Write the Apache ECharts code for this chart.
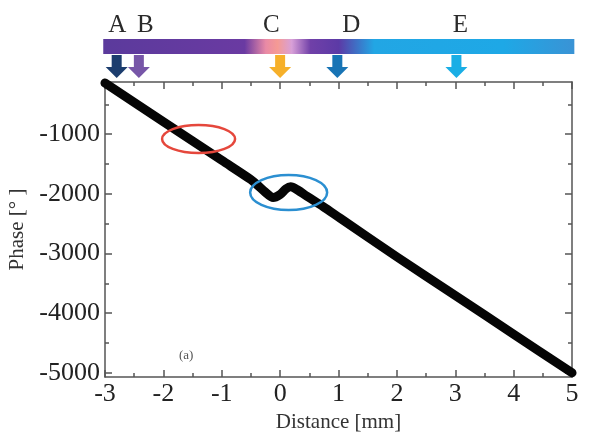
<!DOCTYPE html>
<html><head><meta charset="utf-8">
<script src="https://cdn.jsdelivr.net/npm/echarts@6/dist/echarts.min.js"></script>
<style>html,body{margin:0;padding:0;background:#fff}#c{width:590px;height:439px}</style>
</head><body><div id="c"></div>
<script>
// ---- data ----
const distance = [-3, -2, -1, -0.5, -0.38, -0.25, -0.12, 0.0, 0.1, 0.18, 0.3, 0.46, 0.74, 1.03, 2, 3, 4, 5];
const phase    = [-142, -790, -1438, -1762, -1860, -1975, -2062, -2010, -1918, -1882, -1935, -2040, -2215, -2410, -3056, -3704, -4352, -5000];
const xTicks = [-3, -2, -1, 0, 1, 2, 3, 4, 5];
const yTicks = [-5000, -4000, -3000, -2000, -1000];
const yMinorTicks = [-4500, -3500, -2500, -1500, -500];
const markerLabels = ['A', 'B', 'C', 'D', 'E'];
const markerPos = [-2.8, -2.42, 0, 0.98, 3.02];
const markerLabelPos = [-2.79, -2.31, -0.15, 1.22, 3.09];
const markerColors = ['#1c3d6e', '#7756a8', '#f6b02a', '#1874b5', '#1aaee5'];
const barRange = [-3.03, 5.04];
const ellipseCenters = [[-1.397, -1080], [0.146, -1977]];
const ellipseColors = ['#e5473c', '#2b8fd1'];

const X_MIN = -3, X_MAX = 5, Y_MIN = -5070, Y_MAX = -125;
const FONT = '"Liberation Serif", "Times New Roman", serif';
const AX = '#555';

const chart = echarts.init(document.getElementById('c'), null, {renderer: 'canvas'});

function yAx(pos, ticks, len, showLine, extra) {
  return Object.assign({
    type: 'value', min: Y_MIN, max: Y_MAX, position: pos,
    axisLine: {show: showLine, onZero: false, lineStyle: {color: AX, width: 1.5}},
    axisTick: {show: true, inside: true, length: len, customValues: ticks, lineStyle: {color: AX, width: 1.5}},
    axisLabel: {show: false},
    splitLine: {show: false}
  }, extra || {});
}
function xAx(pos, showLabel, extra) {
  return Object.assign({
    type: 'value', min: X_MIN, max: X_MAX, interval: 1, position: pos,
    axisLine: {show: true, onZero: false, lineStyle: {color: AX, width: 1.5}},
    axisTick: {show: true, inside: true, length: 7, lineStyle: {color: AX, width: 1.5}},
    minorTick: {show: true, splitNumber: 2, length: 4, lineStyle: {color: AX, width: 1.5}},
    axisLabel: {show: showLabel, customValues: xTicks, formatter: v => String(v),
      fontFamily: FONT, fontSize: 26, color: '#222', margin: 4},
    splitLine: {show: false}, minorSplitLine: {show: false}
  }, extra || {});
}

const option = {
  animation: false,
  backgroundColor: '#fff',
  grid: {left: 105, right: 18, top: 82, bottom: 62, containLabel: false, outerBoundsMode: 'none'},
  xAxis: [
    xAx('bottom', true, {name: 'Distance [mm]', nameLocation: 'middle', nameGap: 33,
      nameTextStyle: {fontFamily: FONT, fontSize: 21, color: '#333'}}),
    xAx('top', false)
  ],
  yAxis: [
    yAx('left', yTicks, 7, true, {
      axisLabel: {show: true, customValues: yTicks, formatter: v => String(v),
        fontFamily: FONT, fontSize: 26, color: '#222', margin: 5},
      name: 'Phase [° ]', nameLocation: 'middle', nameGap: 77, nameRotate: 90,
      nameTextStyle: {fontFamily: FONT, fontSize: 21, color: '#333'}
    }),
    yAx('left', yMinorTicks, 4, false),
    yAx('right', yTicks, 7, true),
    yAx('right', yMinorTicks, 4, false)
  ],
  graphic: [
    {type: 'text', left: 179, top: 349, style: {text: '(a)', font: '13px ' + FONT, fill: '#555'}}
  ],
  series: [
    {
      type: 'line', xAxisIndex: 0, yAxisIndex: 0,
      data: distance.map((d, i) => [d, phase[i]]),
      showSymbol: false, smooth: 0.3, clip: false,
      lineStyle: {color: '#050505', width: 9, cap: 'round', join: 'round'},
      z: 3
    },
    {
      type: 'custom', xAxisIndex: 0, yAxisIndex: 0, clip: false, z: 2,
      data: [[barRange[0], Y_MAX, barRange[1]]],
      encode: {x: [0, 2], y: 1},
      renderItem: function (params, api) {
        const p0 = api.coord([api.value(0), api.value(1)]);
        const p1 = api.coord([api.value(2), api.value(1)]);
        return {
          type: 'rect',
          shape: {x: p0[0], y: p0[1] - 43, width: p1[0] - p0[0], height: 15},
          style: {fill: new echarts.graphic.LinearGradient(0, 0, 1, 0, [
            {offset: 0, color: '#5b3a9c'},
            {offset: 0.30, color: '#6a3aa2'},
            {offset: 0.345, color: '#e98aa6'},
            {offset: 0.37, color: '#f59a94'},
            {offset: 0.40, color: '#d8a0d8'},
            {offset: 0.44, color: '#7040a8'},
            {offset: 0.50, color: '#5c3aa6'},
            {offset: 0.575, color: '#22a6e4'},
            {offset: 0.85, color: '#1ea8e6'},
            {offset: 1, color: '#3a93d5'}
          ])}
        };
      }
    },
    {
      type: 'custom', xAxisIndex: 0, yAxisIndex: 0, clip: false, z: 4,
      data: markerPos.map(v => [v, Y_MAX]),
      encode: {x: 0, y: 1},
      renderItem: function (params, api) {
        const p = api.coord([api.value(0), api.value(1)]);
        const x = p[0], top = p[1];
        const color = markerColors[params.dataIndex];
        return {type: 'group', children: [
          {type: 'rect', shape: {x: x - 5, y: top - 27, width: 10, height: 13}, style: {fill: color}},
          {type: 'polygon', shape: {points: [[x - 11, top - 15], [x + 11, top - 15], [x, top - 4]]}, style: {fill: color}}
        ]};
      }
    },
    {
      type: 'custom', xAxisIndex: 0, yAxisIndex: 0, clip: false, z: 4,
      data: markerLabelPos.map(v => [v, Y_MAX]),
      encode: {x: 0, y: 1},
      renderItem: function (params, api) {
        const p = api.coord([api.value(0), api.value(1)]);
        return {type: 'text', style: {
          text: markerLabels[params.dataIndex], x: p[0], y: p[1] - 57,
          align: 'center', verticalAlign: 'middle',
          font: '25px ' + FONT, fill: '#2a2a2a'
        }};
      }
    },
    {
      type: 'custom', xAxisIndex: 0, yAxisIndex: 0, clip: false, z: 5,
      data: ellipseCenters,
      encode: {x: 0, y: 1},
      renderItem: function (params, api) {
        const p = api.coord([api.value(0), api.value(1)]);
        const i = params.dataIndex;
        const r = i === 0 ? [36.5, 14] : [38.5, 17.5];
        return {type: 'ellipse', shape: {cx: p[0], cy: p[1], rx: r[0], ry: r[1]},
          style: {fill: 'none', stroke: ellipseColors[i], lineWidth: 2.5}};
      }
    }
  ]
};
chart.setOption(option);
</script>
</body></html>
